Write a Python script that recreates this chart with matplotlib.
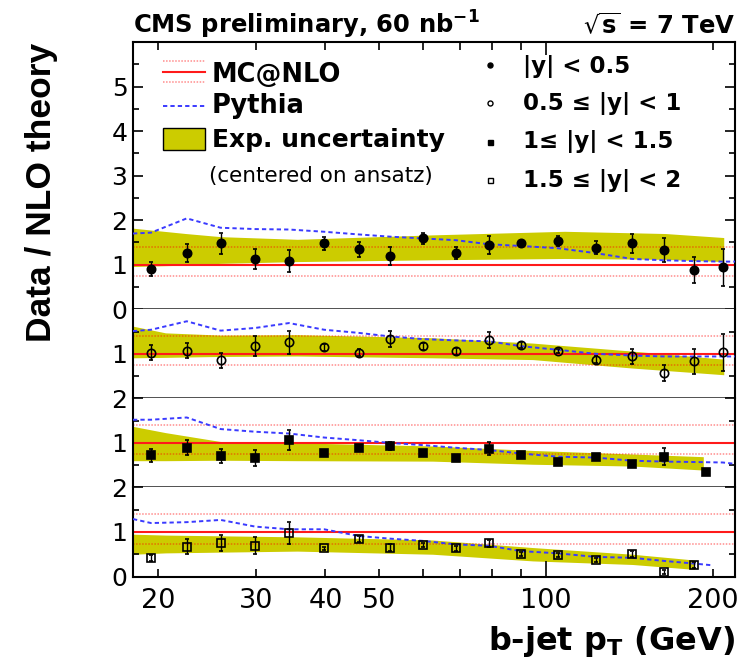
import matplotlib
matplotlib.use("Agg")
import matplotlib.pyplot as plt
from matplotlib.ticker import FixedLocator, FixedFormatter
from matplotlib.patches import Rectangle
from matplotlib.lines import Line2D

plt.rcParams["font.family"] = ["DejaVu Sans"]

# ---------------- data ----------------
# |y| < 0.5 (filled circles)
pt_y0 = [19.4, 22.5, 25.9, 29.9, 34.4, 39.8, 45.9, 52.3, 59.9, 68.8,
         78.8, 90.2, 105, 122.8, 142.8, 163, 185, 208]
ratio_y0 = [0.90, 1.27, 1.48, 1.13, 1.08, 1.48, 1.35, 1.20, 1.59, 1.26,
            1.44, 1.49, 1.53, 1.38, 1.48, 1.33, 0.88, 0.94]
err_y0 = [0.15, 0.20, 0.23, 0.23, 0.25, 0.15, 0.17, 0.20, 0.13, 0.14,
          0.20, 0.05, 0.11, 0.15, 0.22, 0.28, 0.30, 0.41]

# 0.5 <= |y| < 1 (open circles)
pt_y1 = [19.4, 22.5, 25.9, 29.9, 34.4, 39.8, 45.9, 52.3, 59.9, 68.8,
         78.8, 90.2, 105, 122.8, 142.8, 163, 185, 208]
ratio_y1 = [1.02, 1.07, 0.85, 1.17, 1.26, 1.15, 1.02, 1.34, 1.17, 1.06,
            1.30, 1.20, 1.06, 0.87, 0.94, 0.57, 0.83, 1.03]
err_y1 = [0.17, 0.17, 0.16, 0.22, 0.26, 0.08, 0.08, 0.18, 0.08, 0.08,
          0.18, 0.07, 0.05, 0.08, 0.16, 0.17, 0.28, 0.42]

# 1 <= |y| < 1.5 (filled squares)
pt_y2 = [19.4, 22.5, 25.9, 29.9, 34.4, 39.8, 45.9, 52.3, 59.9, 68.8,
         78.8, 90.2, 105, 122.8, 142.8, 163, 194]
ratio_y2 = [0.72, 0.89, 0.71, 0.67, 1.06, 0.77, 0.88, 0.93, 0.77, 0.66,
            0.87, 0.72, 0.58, 0.69, 0.52, 0.69, 0.35]
err_y2 = [0.15, 0.17, 0.16, 0.18, 0.23, 0.04, 0.07, 0.09, 0.04, 0.04,
          0.14, 0.05, 0.04, 0.05, 0.07, 0.19, 0.07]

# 1.5 <= |y| < 2 (open squares)
pt_y3 = [19.4, 22.5, 25.9, 29.9, 34.4, 39.8, 45.9, 52.3, 59.9, 68.8,
         78.8, 90.2, 105, 122.8, 142.8, 163, 185]
ratio_y3 = [0.42, 0.67, 0.75, 0.69, 0.98, 0.63, 0.84, 0.65, 0.71, 0.63,
            0.75, 0.51, 0.48, 0.37, 0.50, 0.10, 0.25]
err_y3 = [0.07, 0.17, 0.18, 0.19, 0.25, 0.03, 0.07, 0.07, 0.05, 0.05,
          0.08, 0.04, 0.04, 0.04, 0.07, 0.04, 0.07]

# Pythia / NLO curves
pythia_pt = [18, 19.4, 22.5, 25.9, 29.9, 34.4, 39.8, 45.9, 52.3, 59.9, 68.8,
             78.8, 90.2, 105, 122.8, 142.8, 163, 185, 208, 219]
pythia_y0 = [1.70, 1.72, 2.04, 1.83, 1.80, 1.79, 1.74, 1.68, 1.63, 1.59, 1.55,
             1.46, 1.42, 1.37, 1.26, 1.13, 1.10, 1.08, 1.07, 1.07]
pythia_y1 = [1.51, 1.54, 1.73, 1.52, 1.58, 1.69, 1.54, 1.47, 1.39, 1.33, 1.30,
             1.28, 1.17, 1.09, 1.00, 0.96, 0.94, 0.94, 0.94, 0.94]
pythia_y2 = [1.52, 1.52, 1.57, 1.31, 1.25, 1.21, 1.12, 1.06, 1.00, 0.95, 0.89,
             0.84, 0.76, 0.69, 0.67, 0.60, 0.58, 0.57, 0.56, 0.53]
pythia_pt_y3 = [18, 19.4, 22.5, 25.9, 29.9, 34.4, 39.8, 45.9, 52.3, 59.9, 68.8,
                78.8, 90.2, 105, 122.8, 142.8, 163, 185, 200]
pythia_y3 = [1.29, 1.20, 1.22, 1.27, 1.12, 1.06, 1.06, 0.91, 0.85, 0.80, 0.72,
             0.69, 0.57, 0.52, 0.44, 0.42, 0.35, 0.29, 0.25]

# MC@NLO: central value and scale variation
mcnlo_central = 1.0
mcnlo_low = 0.74
mcnlo_high = 1.40

# experimental uncertainty band (centred on ansatz)
band_pt_y0 = [18, 22.4, 25.9, 35.6, 62.4, 108, 164, 209]
band_lo_y0 = [0.96, 0.99, 1.03, 1.07, 1.11, 1.14, 1.12, 1.07]
band_hi_y0 = [1.82, 1.70, 1.63, 1.57, 1.67, 1.75, 1.70, 1.61]
band_pt_y1 = [18, 20.6, 25.9, 35.6, 62.4, 94.6, 143, 209]
band_lo_y1 = [0.91, 0.92, 0.94, 0.95, 0.91, 0.87, 0.68, 0.53]
band_hi_y1 = [1.62, 1.47, 1.42, 1.43, 1.36, 1.24, 1.06, 0.88]
band_pt_y2 = [18, 20.6, 25.9, 35.6, 62.4, 94.6, 143, 192]
band_lo_y2 = [0.60, 0.60, 0.61, 0.60, 0.59, 0.52, 0.48, 0.39]
band_hi_y2 = [1.37, 1.23, 1.03, 1.00, 0.93, 0.83, 0.75, 0.69]
band_pt_y3 = [18, 20.6, 35.6, 62.4, 94.6, 143, 185]
band_lo_y3 = [0.50, 0.53, 0.57, 0.50, 0.35, 0.27, 0.16]
band_hi_y3 = [0.95, 0.93, 0.89, 0.82, 0.65, 0.50, 0.37]

rapidity_labels = ["|y| < 0.5", "0.5 \u2264 |y| < 1", "1\u2264 |y| < 1.5",
                   "1.5 \u2264 |y| < 2"]

# ---------------- styles ----------------
BAND = "#cccc00"
PYTHIA = "#3a3aff"
W, H = 746, 669


def fx(px):
    return px / W


def fy(py):
    return 1 - py / H


fig = plt.figure(figsize=(W / 100, H / 100), dpi=100)
gs = fig.add_gridspec(4, 1, height_ratios=[6, 2, 2, 2], hspace=0,
                      left=133 / W, right=735 / W,
                      bottom=1 - 576.5 / H, top=1 - 42 / H)
ax_top = fig.add_subplot(gs[0])
axs = [ax_top] + [fig.add_subplot(gs[i], sharex=ax_top) for i in (1, 2, 3)]

panels = [
    dict(x=pt_y0, y=ratio_y0, e=err_y0, m="o", filled=True, ms=6.0,
         px=pythia_pt, py=pythia_y0, bx=band_pt_y0, blo=band_lo_y0, bhi=band_hi_y0,
         ylim=(0, 6), major=[0, 1, 2, 3, 4, 5], minor=[0.5, 1.5, 2.5, 3.5, 4.5, 5.5]),
    dict(x=pt_y1, y=ratio_y1, e=err_y1, m="o", filled=False, ms=6.0,
         px=pythia_pt, py=pythia_y1, bx=band_pt_y1, blo=band_lo_y1, bhi=band_hi_y1,
         ylim=(0, 2), major=[1], minor=[0.5, 1.5]),
    dict(x=pt_y2, y=ratio_y2, e=err_y2, m="s", filled=True, ms=5.2,
         px=pythia_pt, py=pythia_y2, bx=band_pt_y2, blo=band_lo_y2, bhi=band_hi_y2,
         ylim=(0, 2), major=[1, 2], minor=[0.5, 1.5]),
    dict(x=pt_y3, y=ratio_y3, e=err_y3, m="s", filled=False, ms=5.2,
         px=pythia_pt_y3, py=pythia_y3, bx=band_pt_y3, blo=band_lo_y3, bhi=band_hi_y3,
         ylim=(0, 2), major=[0, 1, 2], minor=[0.5, 1.5]),
]

for i, (ax, p) in enumerate(zip(axs, panels)):
    ax.set_xscale("log")
    ax.set_xlim(18, 219)
    ax.set_ylim(*p["ylim"])
    ax.fill_between(p["bx"], p["blo"], p["bhi"], color=BAND, lw=0, zorder=1)
    for lvl in (mcnlo_low, mcnlo_high):
        ax.axhline(lvl, color="red", alpha=0.45, lw=1.1, ls=(0, (1, 1)), zorder=2)
    ax.axhline(mcnlo_central, color="#ff1a1a", lw=1.5, zorder=2)
    ax.plot(p["px"], p["py"], color=PYTHIA, lw=1.4, ls=(0, (2.2, 1.6)), zorder=3)
    ax.errorbar(p["x"], p["y"], yerr=p["e"], fmt=p["m"], color="black",
                mfc="black" if p["filled"] else "none", mec="black",
                ms=p["ms"], mew=1.2, elinewidth=1.0, capsize=1.6, capthick=1.0,
                zorder=5)

    ax.yaxis.set_major_locator(FixedLocator(p["major"]))
    ax.yaxis.set_major_formatter(FixedFormatter([str(v) for v in p["major"]]))
    ax.yaxis.set_minor_locator(FixedLocator(p["minor"]))
    ax.tick_params(axis="y", which="both", direction="in", left=True, right=True,
                   labelsize=18, pad=4)
    ax.tick_params(axis="y", which="major", length=7, width=1.2)
    ax.tick_params(axis="y", which="minor", length=4.5, width=1.2)

    for s in ax.spines.values():
        s.set_linewidth(1.5)
    if i < 3:
        ax.tick_params(axis="x", which="both", bottom=False, labelbottom=False)
    if i > 0:
        ax.spines["top"].set_visible(False)
        ax.tick_params(axis="x", which="both", top=False)
    if i < 3:
        ax.spines["bottom"].set_linewidth(1.1)
        ax.spines["bottom"].set_color("#222222")

# log x axis ticks: long tick at the decade, short ticks elsewhere
xa = axs[3]
for ax in (ax_top, xa):
    ax.xaxis.set_major_locator(FixedLocator([100]))
    ax.xaxis.set_minor_locator(FixedLocator([20, 30, 40, 50, 60, 70, 80, 90, 200]))
ax_top.tick_params(axis="x", which="both", direction="in", top=True, bottom=False,
                   labeltop=False, labelbottom=False)
ax_top.tick_params(axis="x", which="major", length=9, width=1.2)
ax_top.tick_params(axis="x", which="minor", length=5.5, width=1.2)
xa.xaxis.set_major_formatter(FixedFormatter(["100"]))
xa.xaxis.set_minor_formatter(FixedFormatter(["20", "30", "40", "50", "", "", "", "", "200"]))
xa.tick_params(axis="x", which="both", direction="in", bottom=True, top=False,
               labelbottom=True, labelsize=19.5, pad=8)
xa.tick_params(axis="x", which="major", length=11.5, width=1.2)
xa.tick_params(axis="x", which="minor", length=6, width=1.2)

# ---------------- annotations ----------------
fig.text(fx(133), fy(34), r"CMS preliminary, 60 nb$^{\mathbf{-1}}$", fontsize=17.5,
         fontweight="bold", va="baseline", ha="left")
fig.text(fx(735), fy(34), r"$\sqrt{\mathbf{s}}$ = 7 TeV", fontsize=17.5,
         fontweight="bold", va="baseline", ha="right")
fig.text(fx(735), fy(650), r"b-jet p$_{\mathbf{T}}$ (GeV)", fontsize=23,
         fontweight="bold", va="baseline", ha="right")
fig.text(fx(42), fy(192.5), "Data / NLO theory", rotation=90, fontsize=25.5,
         fontweight="bold", family=["Liberation Sans", "DejaVu Sans"],
         ha="center", va="center")

# left legend
kx = [fx(163), fx(205)]
for off in (-10.5, 10.5):
    fig.add_artist(Line2D(kx, [fy(71.7 + off)] * 2, color="red", alpha=0.45,
                          lw=1.1, ls=(0, (1, 1))))
fig.add_artist(Line2D(kx, [fy(71.7)] * 2, color="#ff1a1a", lw=1.5))
fig.add_artist(Line2D(kx, [fy(106)] * 2, color=PYTHIA, lw=1.4, ls=(0, (2.2, 1.6))))
fig.add_artist(Rectangle((fx(163), fy(150)), fx(205) - fx(163), fy(127.7) - fy(150),
                         transform=fig.transFigure, facecolor=BAND,
                         edgecolor="black", lw=1.0))
fig.text(fx(212), fy(81.7), "MC@NLO", fontsize=18.5, fontweight="bold", va="baseline")
fig.text(fx(212), fy(113.3), "Pythia", fontsize=18.5, fontweight="bold", va="baseline")
fig.text(fx(212), fy(146.7), "Exp. uncertainty", fontsize=18, fontweight="bold",
         va="baseline")
fig.text(fx(209), fy(181.7), "(centered on ansatz)", fontsize=15.5, va="baseline")

# right legend
key_y = [65, 103.3, 141.7, 180]
text_y = [73.3, 110, 148.3, 186.7]
for p, ky, ty, lab in zip(panels, key_y, text_y, rapidity_labels):
    fig.add_artist(Line2D([fx(490)], [fy(ky)], marker=p["m"], ls="none",
                          color="black", mfc="black" if p["filled"] else "none",
                          mec="black", ms=3.6, mew=1.0))
    fig.text(fx(523), fy(ty), lab, fontsize=16.5, fontweight="bold", va="baseline")

fig.savefig("out.png", dpi=100)
